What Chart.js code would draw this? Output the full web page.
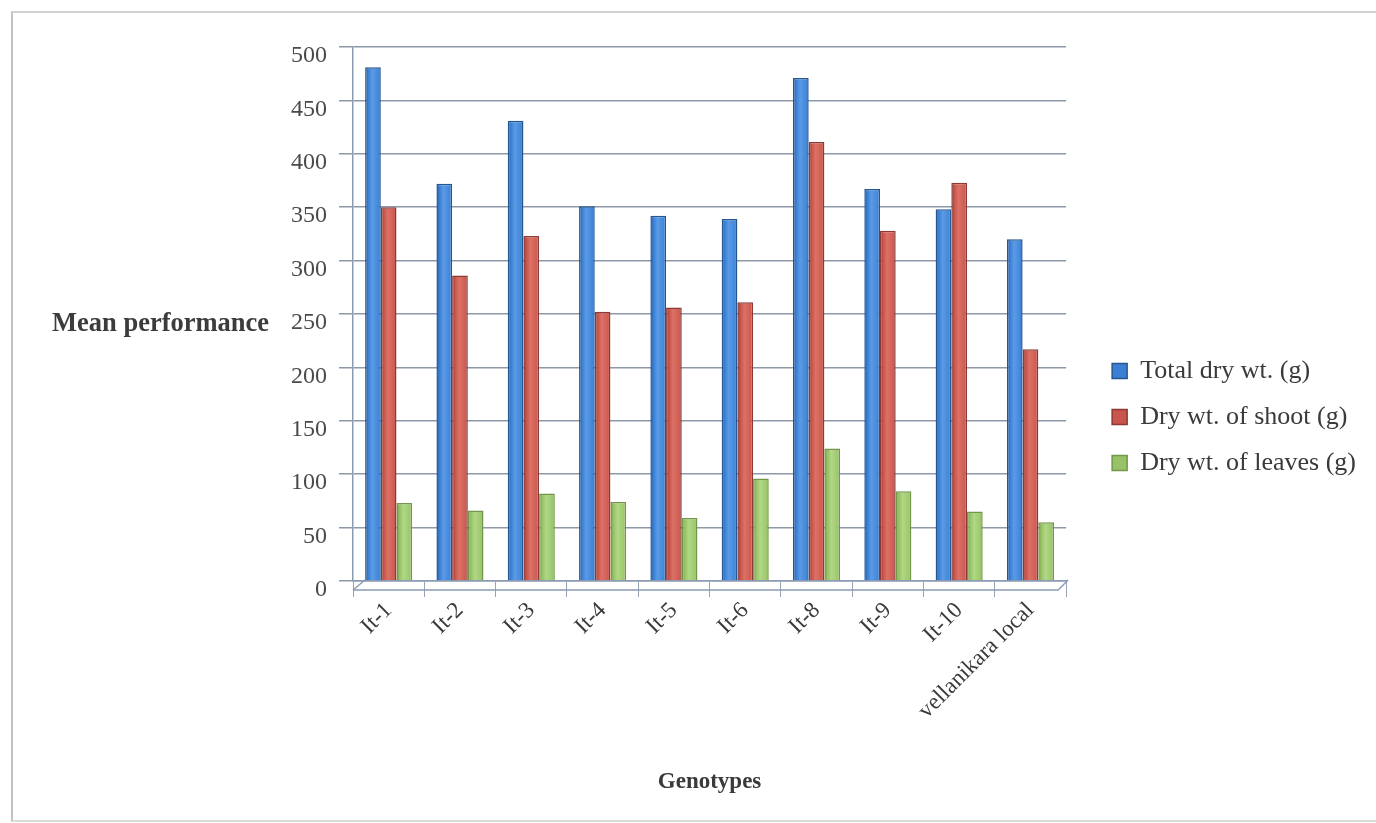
<!DOCTYPE html>
<html>
<head>
<meta charset="utf-8">
<script src="https://cdn.jsdelivr.net/npm/chart.js@4.4.1/dist/chart.umd.min.js"></script>
<style>
  html, body { margin: 0; padding: 0; background: #ffffff; }
  #wrap { position: relative; width: 1376px; height: 823px; overflow: hidden; }
  #wrap canvas { position: absolute; left: 0; top: 0; }
  #frame {
    position: absolute; left: 11px; top: 11px; width: 1375px; height: 811px;
    border-left: 2px solid #c2c2c2; border-top: 2px solid #d2d2d2; border-bottom: 2px solid #dadada;
    box-sizing: border-box; pointer-events: none;
  }
</style>
</head>
<body>
<div id="wrap">
  <canvas id="chart" width="1376" height="823"></canvas>
  <div id="frame"></div>
</div>
<script>
// Genotypes on the category axis
const genotypes = ['It-1', 'It-2', 'It-3', 'It-4', 'It-5', 'It-6', 'It-8', 'It-9', 'It-10', 'vellanikara local'];

// Mean performance per genotype (g)
const totalDryWt  = [481, 372, 431, 351, 342, 339, 471, 367, 348, 320];
const shootDryWt  = [350, 286, 323, 252, 256, 261, 411, 328, 373, 217];
const leavesDryWt = [73, 66, 82, 74, 59, 96, 124, 84, 65, 55];

// Value-axis tick values
const yTickValues = [0, 50, 100, 150, 200, 250, 300, 350, 400, 450, 500];

const seriesNames = ['Total dry wt. (g)', 'Dry wt. of shoot (g)', 'Dry wt. of leaves (g)'];

const SERIF = '"Liberation Serif", "Times New Roman", serif';
const GRID = '#8d99a9';
const AXIS = '#8a9cb4';
const CAT_PCT = 0.66;

// Shaded, column-like fill: dark left edge, light middle, base colour right
function shaded(base, dark, light) {
  return (c) => {
    const chart = c.chart;
    const xs = chart.scales && chart.scales.x;
    if (c.type !== 'data' || !xs || !chart.chartArea) return base;
    const cat = xs.getPixelForValue(c.dataIndex);
    const w = (xs.width / genotypes.length) * CAT_PCT / 3;
    const cx = cat + (c.datasetIndex - 1) * w;
    const g = chart.ctx.createLinearGradient(cx - w / 2, 0, cx + w / 2, 0);
    g.addColorStop(0, dark);
    g.addColorStop(0.2, base);
    g.addColorStop(0.45, light);
    g.addColorStop(1, base);
    return g;
  };
}

// Horizontal value-axis caption and the front edge of the chart floor
const decorations = {
  id: 'decorations',
  beforeDatasetsDraw(chart) {
    const { ctx, chartArea: a } = chart;
    ctx.save();
    ctx.strokeStyle = AXIS;
    ctx.lineWidth = 1.5;
    ctx.beginPath();
    ctx.moveTo(a.left, a.bottom + 9);
    ctx.lineTo(a.right - 8, a.bottom + 9);
    ctx.lineTo(a.right + 2, a.bottom - 1);
    ctx.moveTo(a.left, a.bottom + 9);
    ctx.lineTo(a.left + 12, a.bottom - 1);
    ctx.stroke();
    ctx.restore();
  },
  afterDraw(chart) {
    const { ctx } = chart;
    const y = chart.scales.y.getPixelForValue(250) + 10;
    ctx.save();
    ctx.font = 'bold 26.5px ' + SERIF;
    ctx.fillStyle = '#3c3c3c';
    ctx.textAlign = 'left';
    ctx.textBaseline = 'middle';
    ctx.fillText('Mean performance', 52, y);
    ctx.restore();
  }
};

const barCommon = {
  borderWidth: 1.5,
  borderSkipped: 'bottom',
  barPercentage: 1.0,
  categoryPercentage: CAT_PCT
};

new Chart(document.getElementById('chart'), {
  type: 'bar',
  data: {
    labels: genotypes,
    datasets: [
      Object.assign({ label: seriesNames[0], data: totalDryWt,
        backgroundColor: shaded('#3b7fd4', '#24579e', '#5a9be6'), borderColor: '#25568f' }, barCommon),
      Object.assign({ label: seriesNames[1], data: shootDryWt,
        backgroundColor: shaded('#c9554c', '#8e3732', '#dc7166'), borderColor: '#8c3a35' }, barCommon),
      Object.assign({ label: seriesNames[2], data: leavesDryWt,
        backgroundColor: shaded('#97c265', '#739a48', '#b0d885'), borderColor: '#73964a' }, barCommon)
    ]
  },
  options: {
    responsive: false,
    animation: false,
    devicePixelRatio: 1,
    layout: { padding: { top: 47, left: 0, right: 10, bottom: 36 } },
    plugins: {
      tooltip: { enabled: false },
      legend: {
        position: 'right',
        align: 'center',
        maxWidth: 400,
        labels: {
          boxWidth: 15,
          boxHeight: 15,
          padding: 20,
          color: '#3a3a3a',
          font: { family: SERIF, size: 26 }
        }
      }
    },
    scales: {
      x: {
        grid: { drawOnChartArea: false, drawTicks: true, tickLength: 16, color: '#98a4b4', offset: true },
        border: { display: true, color: AXIS, width: 1.5 },
        ticks: {
          color: '#3a3a3a',
          font: { family: SERIF, size: 23 },
          minRotation: 45,
          maxRotation: 45,
          autoSkip: false,
          padding: 0
        },
        title: {
          display: true,
          text: 'Genotypes',
          color: '#3a3a3a',
          font: { family: SERIF, size: 23, weight: 'bold' },
          padding: { top: 0, bottom: -9 }
        },
        afterFit(scale) { scale.height = 206; }
      },
      y: {
        min: 0,
        max: 500,
        afterBuildTicks(scale) { scale.ticks = yTickValues.map(v => ({ value: v })); },
        grid: { color: GRID, lineWidth: 1.5, tickLength: 14 },
        border: { display: true, color: AXIS, width: 1.5 },
        ticks: {
          color: '#4a4a4a',
          font: { family: SERIF, size: 24 },
          padding: 12,
          labelOffset: 9
        },
        afterFit(scale) { scale.width = 353; }
      },
      gap: {
        type: 'linear',
        position: 'right',
        display: true,
        grid: { display: false, drawTicks: false },
        border: { display: false },
        ticks: { display: false },
        afterFit(scale) { scale.width = 26; }
      }
    }
  },
  plugins: [decorations]
});
</script>
</body>
</html>
